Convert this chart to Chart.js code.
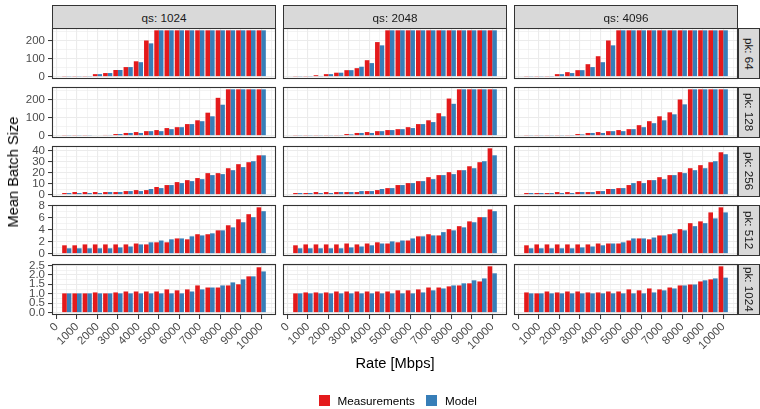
<!DOCTYPE html>
<html><head><meta charset="utf-8">
<script src="https://cdn.jsdelivr.net/npm/chart.js@4.4.1/dist/chart.umd.min.js"></script>
<style>
html,body{margin:0;padding:0;background:#fff;}
body{width:760px;height:409px;position:relative;overflow:hidden;font-family:"Liberation Sans",Arial,sans-serif;}
canvas{position:absolute;}
.strip{position:absolute;background:#D9D9D9;border:1px solid #333;box-sizing:border-box;color:#1A1A1A;font-size:11.7px;display:flex;align-items:center;justify-content:center;white-space:nowrap;}
.vstrip{writing-mode:vertical-rl;}
.title{position:absolute;color:#000;font-size:14.7px;white-space:nowrap;}
.key{position:absolute;width:11px;height:11px;}
.ltext{position:absolute;font-size:11.7px;color:#000;white-space:nowrap;line-height:14px;}
</style>
</head><body>
<script>
// ---------- data ----------
const rates = [500,1000,1500,2000,2500,3000,3500,4000,4500,5000,5500,6000,6500,7000,7500,8000,8500,9000,9500,10000];
const qsLabels = ["qs: 1024","qs: 2048","qs: 4096"];
const pkLabels = ["pk: 64","pk: 128","pk: 256","pk: 512","pk: 1024"];
const seriesNames = ["Measurements","Model"];
const xTicks = [0,1000,2000,3000,4000,5000,6000,7000,8000,9000,10000];
const yTicksPk64 = [0,100,200];
const yTicksPk128 = [0,100,200];
const yTicksPk256 = [0,10,20,30,40];
const yTicksPk512 = [0,2,4,6,8];
const yTicksPk1024 = [0,0.5,1,1.5,2,2.5];

const measPk64Qs1024  = [2,2,2,14,20,37,53,85,200,256,256,256,256,256,256,256,256,256,256,256];
const modelPk64Qs1024 = [2,2,2,14,20,37,53,80,184,256,256,256,256,256,256,256,256,256,256,256];
const measPk64Qs2048  = [2,2,8,14,22,36,47,91,191,256,256,256,256,256,256,256,256,256,256,256];
const modelPk64Qs2048 = [2,2,4,14,22,36,55,75,173,256,256,256,256,256,256,256,256,256,256,256];
const measPk64Qs4096  = [2,2,2,14,25,36,69,113,200,256,256,256,256,256,256,256,256,256,256,256];
const modelPk64Qs4096 = [2,2,2,14,20,36,53,80,173,256,256,256,256,256,256,256,256,256,256,256];

const measPk128Qs1024  = [2,2,2,3,4,9,15,20,25,31,42,47,64,85,127,209,256,256,256,256];
const modelPk128Qs1024 = [2,2,2,3,4,9,15,15,25,25,36,47,64,80,107,171,256,256,256,256];
const measPk128Qs2048  = [2,2,2,2,2,9,15,20,25,31,36,47,64,85,124,205,256,256,256,256];
const modelPk128Qs2048 = [2,2,2,2,2,7,15,15,25,31,36,42,64,75,107,176,256,256,256,256];
const measPk128Qs4096  = [2,2,2,2,2,9,15,20,25,31,36,58,80,107,129,200,256,256,256,256];
const modelPk128Qs4096 = [2,2,2,2,2,7,15,15,25,25,36,47,69,85,118,173,256,256,256,256];

const measPk256Qs1024  = [1.5,2.4,2.4,2.4,2.4,2.4,3.3,4.2,4.2,7,8.8,11.5,13.3,15.2,19.7,19.7,24.2,27.9,29.7,36];
const modelPk256Qs1024 = [1.5,1.5,1.5,1.5,2.4,2.4,3.3,3.3,5.2,6,8.8,10.6,12.4,14.2,17.9,18.8,22.4,25.2,30.6,36];
const measPk256Qs2048  = [1.5,1.5,2.4,2.4,2.4,2.4,2.4,3.3,4.2,6,8.8,10.6,12.4,16,17.9,20.6,22.4,26,29.7,42.4];
const modelPk256Qs2048 = [1.5,1.5,1.5,1.5,2.4,2.4,3.3,3.3,5.2,6,8.8,10.6,12.4,14.2,17.9,18.8,22.4,24.2,30.6,36];
const measPk256Qs4096  = [1.5,1.5,1.5,2.4,2.4,2.4,2.4,3.3,5.2,6,8.8,12.4,13.3,16,17.9,20.6,24.2,27,29.7,38.8];
const modelPk256Qs4096 = [1.5,1.5,1.5,1.5,1.5,2.4,2.4,3.3,5.2,6,10.6,10.6,13.3,14.2,17.9,19.7,22.4,24.2,30.6,37];

const measPk512Qs1024  = [1.4,1.4,1.55,1.55,1.55,1.55,1.55,1.7,1.55,1.9,1.9,2.55,2.4,3.25,3.25,3.9,4.75,5.75,6.6,7.75];
const modelPk512Qs1024 = [0.9,0.9,0.9,0.9,0.9,1.05,1.2,1.55,1.9,2.2,2.4,2.55,2.9,3.05,3.4,3.9,4.4,5.25,6.1,7.1];
const measPk512Qs2048  = [1.4,1.55,1.55,1.55,1.55,1.7,1.55,1.7,1.9,1.7,1.9,2.2,2.9,3.25,3.05,4.1,4.6,5.4,6.1,7.4];
const modelPk512Qs2048 = [0.9,0.9,0.9,0.9,0.9,1.05,1.2,1.4,1.7,2.05,2.2,2.55,2.9,3.05,3.6,3.9,4.4,5.25,6.1,7.1];
const measPk512Qs4096  = [1.4,1.55,1.55,1.55,1.55,1.55,1.55,1.7,1.7,1.7,2.2,2.55,2.4,3.05,3.25,4.1,5.1,5.4,6.9,7.75];
const modelPk512Qs4096 = [0.9,0.9,0.9,0.9,0.9,1.05,1.2,1.4,1.7,1.9,2.55,2.55,2.7,3.05,3.4,3.9,4.6,5.1,5.9,6.9];

const measPk1024Qs1024  = [1.02,1.02,1.02,1.07,1.02,1.07,1.12,1.12,1.12,1.12,1.23,1.18,1.23,1.44,1.33,1.33,1.44,1.5,1.92,2.4];
const modelPk1024Qs1024 = [1.02,1.02,1.02,1.02,1.02,1.02,1.02,1.02,1.02,1.02,1.02,1.02,1.12,1.23,1.33,1.44,1.6,1.76,1.92,2.18];
const measPk1024Qs2048  = [1.02,1.07,1.07,1.07,1.12,1.12,1.12,1.12,1.12,1.12,1.18,1.18,1.23,1.33,1.33,1.39,1.44,1.55,1.65,2.45];
const modelPk1024Qs2048 = [1.02,1.02,1.02,1.02,1.02,1.02,1.02,1.02,1.02,1.02,1.02,1.02,1.07,1.18,1.28,1.44,1.55,1.71,1.81,2.08];
const measPk1024Qs4096  = [1.07,1.02,1.12,1.07,1.12,1.12,1.07,1.07,1.12,1.12,1.23,1.18,1.28,1.23,1.33,1.44,1.49,1.65,1.76,2.45];
const modelPk1024Qs4096 = [1.02,1.02,1.02,1.02,1.02,1.02,1.02,1.02,1.02,1.02,1.02,1.02,1.07,1.18,1.28,1.44,1.49,1.71,1.81,1.85];

// ---------- assembly ----------
const RED = "#E41A1C", BLUE = "#377EB8";
const FONT = "'Liberation Sans', Arial, sans-serif";
const rows = [
  {ticks: yTicksPk64,   meas:[measPk64Qs1024,measPk64Qs2048,measPk64Qs4096],   model:[modelPk64Qs1024,modelPk64Qs2048,modelPk64Qs4096], fmt:v=>String(v)},
  {ticks: yTicksPk128,  meas:[measPk128Qs1024,measPk128Qs2048,measPk128Qs4096], model:[modelPk128Qs1024,modelPk128Qs2048,modelPk128Qs4096], fmt:v=>String(v)},
  {ticks: yTicksPk256,  meas:[measPk256Qs1024,measPk256Qs2048,measPk256Qs4096], model:[modelPk256Qs1024,modelPk256Qs2048,modelPk256Qs4096], fmt:v=>String(v)},
  {ticks: yTicksPk512,  meas:[measPk512Qs1024,measPk512Qs2048,measPk512Qs4096], model:[modelPk512Qs1024,modelPk512Qs2048,modelPk512Qs4096], fmt:v=>String(v)},
  {ticks: yTicksPk1024, meas:[measPk1024Qs1024,measPk1024Qs2048,measPk1024Qs4096], model:[modelPk1024Qs1024,modelPk1024Qs2048,modelPk1024Qs4096], fmt:v=>v.toFixed(1)}
];
rows.forEach(r => {
  const M = Math.max(...r.meas.flat(), ...r.model.flat());
  r.min = -0.05 * M; r.max = 1.05 * M;
  const step = r.ticks[1] - r.ticks[0];
  const all = [];
  for (let v = r.ticks[0] - step; v <= r.max + step; v += step / 2) {
    const vv = Math.round(v * 1000) / 1000;
    if (vv >= r.min && vv <= r.max) all.push(vv);
  }
  r.allTicks = all;
  r.isMajor = v => r.ticks.some(t => Math.abs(t - v) < 1e-6);
});
const xAll = [];
for (let v = 0; v <= 10722; v += 500) xAll.push(v);
const isMajorX = v => xTicks.includes(v);

const lefts = [52, 283, 514];
const tops = [28, 87, 146, 205, 264];
const PW = 224, PH = 51, YAX = 52, XAX = 46;

const frame = {id:'frame', afterDatasetsDraw(chart){
  const {ctx, chartArea:a} = chart;
  ctx.save(); ctx.strokeStyle = '#333'; ctx.lineWidth = 1.1;
  ctx.strokeRect(a.left + 0.5, a.top + 0.5, a.right - a.left - 1, a.bottom - a.top - 1);
  ctx.restore();
}};

function makePanel(r, c) {
  const row = rows[r];
  const showY = c === 0, showX = r === 4;
  const padL = showY ? 0 : 12, axW = showY ? YAX : 0, padT = 8, padB = showX ? 0 : 8, axH = showX ? XAX : 0, padR = 2;
  const w = padL + axW + PW + padR, h = padT + PH + axH + padB;
  const cv = document.createElement('canvas');
  cv.width = w; cv.height = h;
  cv.style.left = (lefts[c] - padL - axW) + 'px';
  cv.style.top = (tops[r] - padT) + 'px';
  cv.style.width = w + 'px'; cv.style.height = h + 'px';
  document.body.appendChild(cv);
  new Chart(cv, {
    type: 'bar',
    data: { datasets: [
      {label: seriesNames[0], data: rates.map((x, k) => ({x, y: row.meas[c][k]})), backgroundColor: RED, borderWidth: 0, categoryPercentage: 0.9, barPercentage: 1},
      {label: seriesNames[1], data: rates.map((x, k) => ({x, y: row.model[c][k]})), backgroundColor: BLUE, borderWidth: 0, categoryPercentage: 0.9, barPercentage: 1}
    ]},
    options: {
      responsive: false, animation: false, devicePixelRatio: 1,
      layout: {padding: {left: padL, right: padR, top: padT, bottom: padB}},
      plugins: {legend: {display: false}, tooltip: {enabled: false}},
      scales: {
        x: {type: 'linear', min: -222, max: 10722, offset: false, bounds: 'data',
          afterBuildTicks: s => { s.ticks = xAll.map(v => ({value: v})); },
          afterFit: s => { s.height = axH; s.paddingLeft = 0; s.paddingRight = 0; },
          ticks: {display: showX, autoSkip: false, maxRotation: 45, minRotation: 45, padding: 1, color: '#4D4D4D',
                  font: {family: FONT, size: 11.5}, callback: v => isMajorX(v) ? String(v) : ''},
          grid: {display: true, offset: false, drawTicks: showX, tickLength: 4, color: '#EBEBEB',
                 lineWidth: ctx => (ctx.tick && isMajorX(ctx.tick.value)) ? 1.1 : 0.6,
                 tickColor: ctx => (ctx.tick && isMajorX(ctx.tick.value)) ? '#333' : 'rgba(0,0,0,0)', tickWidth: 1},
          border: {display: false}},
        y: {type: 'linear', min: row.min, max: row.max, bounds: 'data',
          afterBuildTicks: s => { s.ticks = row.allTicks.map(v => ({value: v})); },
          afterFit: s => { s.width = axW; s.paddingTop = 0; s.paddingBottom = 0; },
          ticks: {display: showY, autoSkip: false, padding: 3, color: '#4D4D4D',
                  font: {family: FONT, size: 11.5}, callback: v => row.isMajor(v) ? row.fmt(v) : ''},
          grid: {display: true, drawTicks: showY, tickLength: 4, color: '#EBEBEB',
                 lineWidth: ctx => (ctx.tick && row.isMajor(ctx.tick.value)) ? 1.1 : 0.6,
                 tickColor: ctx => (ctx.tick && row.isMajor(ctx.tick.value)) ? '#333' : 'rgba(0,0,0,0)', tickWidth: 1},
          border: {display: false}}
      }
    },
    plugins: [frame]
  });
}

for (let r = 0; r < 5; r++) for (let c = 0; c < 3; c++) makePanel(r, c);

// strips
function addDiv(cls, text, css) {
  const d = document.createElement('div');
  d.className = cls; d.textContent = text;
  Object.assign(d.style, css);
  document.body.appendChild(d);
  return d;
}
qsLabels.forEach((t, c) => addDiv('strip', t, {left: lefts[c] + 'px', top: '5px', width: PW + 'px', height: '24px'}));
pkLabels.forEach((t, r) => addDiv('strip vstrip', t, {left: '738px', top: tops[r] + 'px', width: '22px', height: PH + 'px'}));

// axis titles
const yt = addDiv('title', 'Mean Batch Size', {left: '13px', top: '171.5px', transform: 'translate(-50%,-50%) rotate(-90deg)'});
const xt = addDiv('title', 'Rate [Mbps]', {left: '395px', top: '363px', transform: 'translate(-50%,-50%)'});

// legend
addDiv('key', '', {left: '319px', top: '395px', background: RED});
addDiv('ltext', seriesNames[0], {left: '337.5px', top: '393.5px'});
addDiv('key', '', {left: '425.5px', top: '395px', background: BLUE});
addDiv('ltext', seriesNames[1], {left: '445px', top: '393.5px'});
</script>
</body></html>
